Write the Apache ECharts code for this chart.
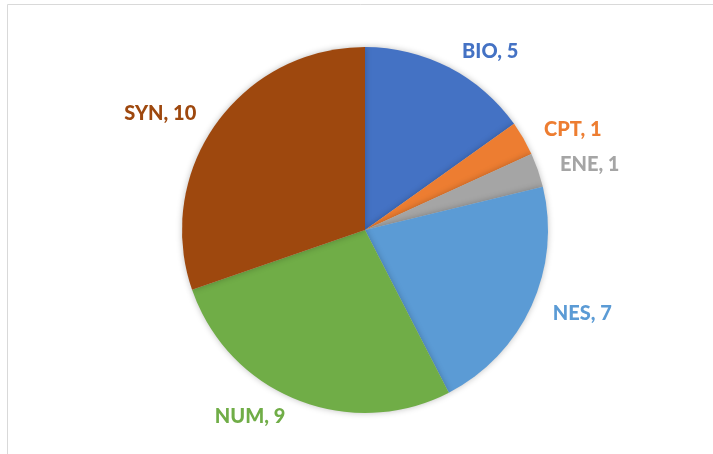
<!DOCTYPE html>
<html>
<head>
<meta charset="utf-8">
<style>
  html, body { margin: 0; padding: 0; background: #fff; }
  #chart { width: 713px; height: 454px; }
</style>
</head>
<body>
<div id="chart"></div>
<script src="https://cdn.jsdelivr.net/npm/echarts@6/dist/echarts.min.js"></script>
<script>
    // dados
    var categorias = ['BIO', 'CPT', 'ENE', 'NES', 'NUM', 'SYN'];
    var valores = [5, 1, 1, 7, 9, 10];
    var cores = ['#4472C4', '#ED7D31', '#A5A5A5', '#5B9BD5', '#70AD47', '#9E480E'];

    var myChart = echarts.init(document.getElementById('chart'));

    var dados = categorias.map(function (c, i) {
        return {
            name: c,
            value: valores[i],
            itemStyle: { color: cores[i] },
            label: { color: cores[i] }
        };
    });

    var option = {
        backgroundColor: '#fff',
        animation: false,
        graphic: [
            { type: 'line', shape: { x1: 7.5, y1: 4.5, x2: 713, y2: 4.5 }, style: { stroke: '#d9d9d9', lineWidth: 1 } },
            { type: 'line', shape: { x1: 7.5, y1: 4.5, x2: 7.5, y2: 454 }, style: { stroke: '#d9d9d9', lineWidth: 1 } }
        ],
        series: [
            {
                type: 'pie',
                center: [365, 230],
                radius: 183,
                startAngle: 90,
                clockwise: true,
                avoidLabelOverlap: false,
                itemStyle: {
                    shadowBlur: 6,
                    shadowColor: 'rgba(0,0,0,0.25)'
                },
                label: {
                    show: true,
                    position: 'outside',
                    formatter: '{b}, {c}',
                    fontFamily: 'Lato',
                    fontWeight: 900,
                    fontSize: 20
                },
                labelLine: { show: false, length: 18, length2: 0 },
                data: dados
            }
        ]
    };

    myChart.setOption(option);
</script>
</body>
</html>
